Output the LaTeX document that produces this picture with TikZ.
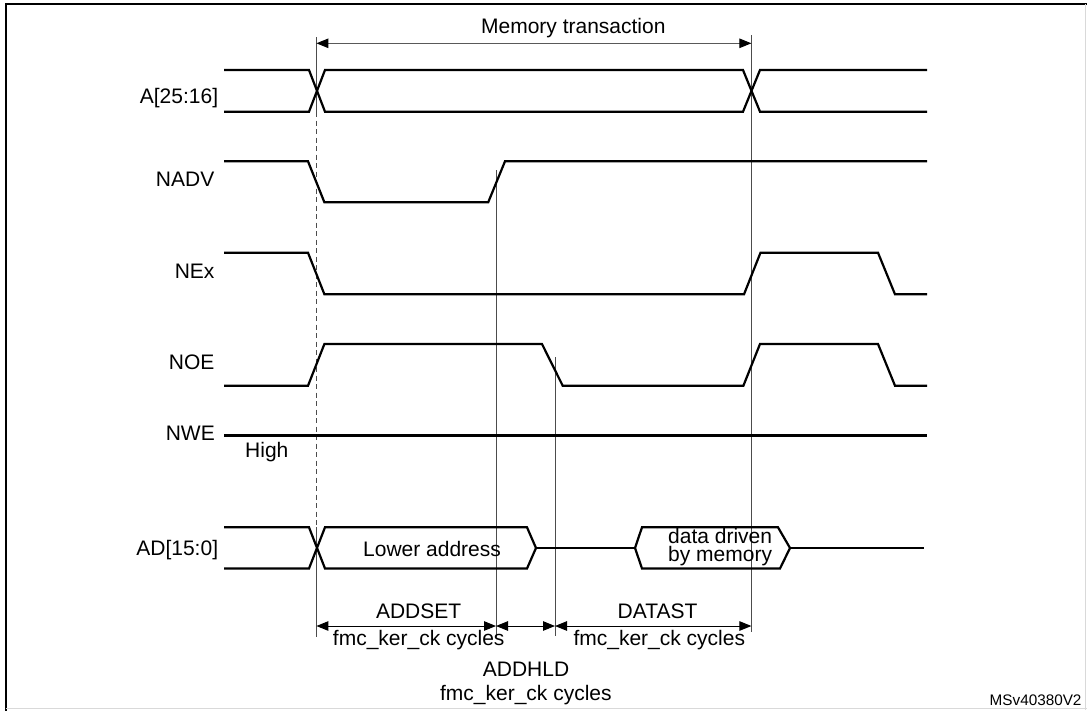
\documentclass[tikz,border=0pt]{standalone}
\usepackage{fontspec}
\setmainfont{Liberation Sans}
\usetikzlibrary{arrows.meta}
\tikzset{
  sig/.style={line width=2.2pt, black, line join=miter},
  guide/.style={line width=1pt, black!70},
  guidedash/.style={guide, dash pattern=on 5pt off 3.5pt},
  dim/.style={line width=1pt, {Triangle[length=12pt,width=9.5pt,color=black]}-{Triangle[length=12pt,width=9.5pt,color=black]}},
  lbl/.style={inner sep=0pt, font=\fontsize{21}{21}\selectfont},
  small/.style={inner sep=0pt, font=\fontsize{15.3}{15.3}\selectfont}
}
\begin{document}
\begin{tikzpicture}[x=1pt,y=-1pt]
\useasboundingbox (0,0) rectangle (1087,710);
% frame
\draw[line width=2pt] (5.7,4) -- (1087,4);
\draw[line width=2pt] (5.7,3) -- (5.7,711);
\draw[line width=0.8pt, black!15] (5.7,708.5) -- (1087,708.5);
\draw[line width=0.8pt, black!15] (1085.5,4) -- (1085.5,710);

% time markers
\coordinate (t0top) at (316.4,37);
\coordinate (t0a) at (316.4,112);
\coordinate (t0b) at (316.4,527);
\coordinate (t0bot) at (316.4,637);
\coordinate (t1top) at (496,170);
\coordinate (t1bot) at (496,637);
\coordinate (t2top) at (555,357);
\coordinate (t2bot) at (555,636);
\coordinate (t3top) at (751.4,35);
\coordinate (t3bot) at (751.4,632);
\draw[guide] (t0top) -- (t0a);
\draw[guidedash] (t0a) -- (t0b);
\draw[guide] (t0b) -- (t0bot);
\draw[guide] (t1top) -- (t1bot);
\draw[guide] (t2top) -- (t2bot);
\draw[guide] (t3top) -- (t3bot);

% memory transaction
\coordinate (mtL) at (316.4,43.3);
\coordinate (mtR) at (751.4,43.3);
\draw[dim, black!65] (mtL) -- (mtR);
\node[lbl, anchor=base] (mt) at (573.3,33.3) {Memory transaction};

% signal labels
\node[lbl, anchor=base east] (lA)   at (218.3,103.3) {A[25:16]};
\node[lbl, anchor=base east] (lNADV) at (214.5,186.7) {NADV};
\node[lbl, anchor=base east] (lNEx) at (214.7,278.3) {NEx};
\node[lbl, anchor=base east] (lNOE) at (214.7,369.3) {NOE};
\node[lbl, anchor=base east] (lNWE) at (215,440.7) {NWE};
\node[lbl, anchor=base west] (lHigh) at (245,457.3) {High};
\node[lbl, anchor=base east] (lAD) at (218.3,555) {AD[15:0]};

% A[25:16]
\draw[sig] (224,70) -- (309,70) -- (325,111.7) -- (743,111.7) -- (760,70) -- (927,70);
\draw[sig] (224,111.7) -- (309,111.7) -- (325,70) -- (743,70) -- (760,111.7) -- (927,111.7);
% NADV
\draw[sig] (224,161.3) -- (308,161.3) -- (324.4,202.3) -- (488.2,202.3) -- (505,161.3) -- (927,161.3);
% NEx
\draw[sig] (224,252.7) -- (308,252.7) -- (324.4,294.3) -- (744,294.3) -- (760.5,252.7) -- (878,252.7) -- (895,294.3) -- (927,294.3);
% NOE
\draw[sig] (224,385.7) -- (308,385.7) -- (324.4,344) -- (542,344) -- (562.7,385.7) -- (743.4,385.7) -- (760,344) -- (878,344) -- (895,385.7) -- (927,385.7);
% NWE
\draw[sig] (224,435.5) -- (927,435.5);
% AD[15:0]
\draw[sig] (224,527.3) -- (309,527.3) -- (325,568.5) -- (527,568.5) -- (536,548) -- (527,527.3) -- (325,527.3) -- (309,568.5) -- (224,568.5);
\draw[sig] (536,548) -- (635,548);
\draw[sig] (635,548) -- (642,527.3) -- (778,527.3) -- (790,548) -- (780,568.5) -- (642,568.5) -- cycle;
\draw[sig] (790,548) -- (924,548);
\node[lbl, anchor=base west] (lLow) at (363,556.7) {Lower address};
\node[lbl, anchor=base west] (lData1) at (668,543) {data driven};
\node[lbl, anchor=base west] (lData2) at (668,561) {by memory};

% timing dimensions
\coordinate (aS) at (316.4,626);
\coordinate (aH) at (496,626);
\coordinate (aL) at (555,626);
\coordinate (aE) at (751.4,626);
\draw[dim, black] (aS) -- (aH);
\draw[dim, black] (aH) -- (aL);
\draw[dim, black] (aL) -- (aE);
\node[lbl, anchor=base] (lADDSET) at (418.6,618.3) {ADDSET};
\node[lbl, anchor=base] (lADDSETc) at (418.7,645) {fmc\_ker\_ck cycles};
\node[lbl, anchor=base] (lDATAST) at (657.6,618.3) {DATAST};
\node[lbl, anchor=base] (lDATASTc) at (659.3,645) {fmc\_ker\_ck cycles};
\node[lbl, anchor=base] (lADDHLD) at (526,676.7) {ADDHLD};
\node[lbl, anchor=base] (lADDHLDc) at (525.9,700.7) {fmc\_ker\_ck cycles};

\node[small, anchor=base east] (ref) at (1081.7,705) {MSv40380V2};
\end{tikzpicture}
\end{document}
